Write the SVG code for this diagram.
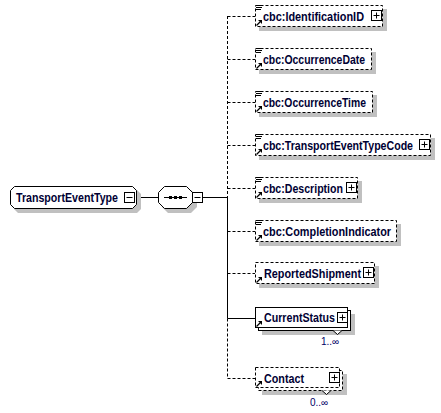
<svg xmlns="http://www.w3.org/2000/svg" xmlns:xlink="http://www.w3.org/1999/xlink" width="441" height="413" viewBox="0 0 441 413">
<style>
.bx{fill:#fff;stroke:#000;stroke-width:1}
.dsh{stroke-dasharray:3,2}
.sh{fill:#c0c0c0}
.cn{stroke:#000;stroke-width:1;fill:none}
.t{font-family:"Liberation Sans",Arial,sans-serif;font-weight:bold;font-size:12px;fill:#000033}
.m{font-family:"Liberation Sans",Arial,sans-serif;font-size:10px;fill:#000066}
</style>
<defs>
<g id="plus"><rect x="0.5" y="0.5" width="10" height="10" fill="#fff" stroke="#000"/><path d="M2.5 5.5H8.5M5.5 2.5V8.5" stroke="#000"/></g>
<g id="minus"><rect x="0.5" y="0.5" width="10" height="10" fill="#fff" stroke="#000"/><path d="M2.5 5.5H8.5" stroke="#000"/></g>
<g id="lines"><path d="M0 0.5H6M0 2.5H6M0 4.5H5" stroke="#000"/></g>
<g id="arrow"><path d="M0.5 6.5L4 3" stroke="#000" stroke-width="1.3"/><polygon points="2,1 6,1 6,5" fill="#000"/></g>
</defs>

<g id="connectors">
<path class="cn" d="M136 197.5H158"/>
<path class="cn" d="M203 197.5H227.5"/>
<path class="cn dsh" d="M227.5 16V197"/>
<path class="cn" d="M227.5 197V318.5"/>
<path class="cn dsh" d="M227.5 318.5V378.5"/>
<path class="cn dsh" d="M227.5 16.5H255"/>
<path class="cn dsh" d="M227.5 59.5H255"/>
<path class="cn dsh" d="M227.5 102.5H255"/>
<path class="cn dsh" d="M227.5 145.5H255"/>
<path class="cn dsh" d="M227.5 188.5H255"/>
<path class="cn dsh" d="M227.5 231.5H255"/>
<path class="cn dsh" d="M227.5 273.5H255"/>
<path class="cn" d="M227.5 318.5H255"/>
<path class="cn dsh" d="M227.5 378.5H255"/>
</g>

<g id="TransportEventType">
<polygon class="sh" points="18,190 137,190 141,194 141,209 137,213 18,213 14,209 14,194"/>
<polygon class="bx" points="14.5,186.5 132.5,186.5 136.5,190.5 136.5,204.5 132.5,208.5 14.5,208.5 10.5,204.5 10.5,190.5"/>
<text class="t" x="16" y="201.5" textLength="102" lengthAdjust="spacingAndGlyphs">TransportEventType</text>
<use xlink:href="#minus" x="124" y="192"/>
</g>

<g id="sequence">
<polygon class="sh" points="168,190 191,190 197,196 197,207 191,213 168,213 162,207 162,196"/>
<polygon class="bx" points="164.5,186.5 186.5,186.5 192.5,192.5 192.5,202.5 186.5,208.5 164.5,208.5 158.5,202.5 158.5,192.5"/>
<path d="M164 197.5H187" stroke="#000"/>
<rect x="169" y="196" width="3" height="3" fill="#000"/>
<rect x="174" y="196" width="3" height="3" fill="#000"/>
<rect x="179" y="196" width="3" height="3" fill="#000"/>
<use xlink:href="#minus" x="192" y="192"/>
</g>

<g id="IdentificationID">
<rect class="sh" x="259" y="9" width="128" height="22"/>
<rect class="bx dsh" x="255.5" y="5.5" width="127" height="21"/>
<use xlink:href="#lines" x="256" y="5"/>
<use xlink:href="#arrow" x="256" y="19"/>
<text class="t" x="263" y="20.5" textLength="101" lengthAdjust="spacingAndGlyphs">cbc:IdentificationID</text>
<use xlink:href="#plus" x="371" y="10"/>
</g>

<g id="OccurrenceDate">
<rect class="sh" x="259" y="52" width="117" height="22"/>
<rect class="bx dsh" x="255.5" y="48.5" width="116" height="21"/>
<use xlink:href="#lines" x="256" y="48"/>
<use xlink:href="#arrow" x="256" y="62"/>
<text class="t" x="263" y="63.5" textLength="102" lengthAdjust="spacingAndGlyphs">cbc:OccurrenceDate</text>
</g>

<g id="OccurrenceTime">
<rect class="sh" x="259" y="95" width="118" height="22"/>
<rect class="bx dsh" x="255.5" y="91.5" width="117" height="21"/>
<use xlink:href="#lines" x="256" y="91"/>
<use xlink:href="#arrow" x="256" y="105"/>
<text class="t" x="263" y="106.5" textLength="103" lengthAdjust="spacingAndGlyphs">cbc:OccurrenceTime</text>
</g>

<g id="TransportEventTypeCode">
<rect class="sh" x="259" y="138" width="176" height="22"/>
<rect class="bx dsh" x="255.5" y="134.5" width="175" height="21"/>
<use xlink:href="#lines" x="256" y="134"/>
<use xlink:href="#arrow" x="256" y="148"/>
<text class="t" x="263" y="149.5" textLength="150" lengthAdjust="spacingAndGlyphs">cbc:TransportEventTypeCode</text>
<use xlink:href="#plus" x="419" y="139"/>
</g>

<g id="Description">
<rect class="sh" x="259" y="181" width="103" height="22"/>
<rect class="bx dsh" x="255.5" y="177.5" width="102" height="21"/>
<use xlink:href="#lines" x="256" y="177"/>
<use xlink:href="#arrow" x="256" y="191"/>
<text class="t" x="263" y="192.5" textLength="80" lengthAdjust="spacingAndGlyphs">cbc:Description</text>
<use xlink:href="#plus" x="346" y="182"/>
</g>

<g id="CompletionIndicator">
<rect class="sh" x="259" y="224" width="142" height="22"/>
<rect class="bx dsh" x="255.5" y="220.5" width="141" height="21"/>
<use xlink:href="#lines" x="256" y="220"/>
<use xlink:href="#arrow" x="256" y="234"/>
<text class="t" x="263" y="235.5" textLength="128" lengthAdjust="spacingAndGlyphs">cbc:CompletionIndicator</text>
</g>

<g id="ReportedShipment">
<rect class="sh" x="259" y="266" width="120" height="22"/>
<rect class="bx dsh" x="255.5" y="262.5" width="119" height="21"/>
<use xlink:href="#arrow" x="256" y="276"/>
<text class="t" x="264" y="277.5" textLength="97" lengthAdjust="spacingAndGlyphs">ReportedShipment</text>
<use xlink:href="#plus" x="363" y="267"/>
</g>

<g id="CurrentStatus">
<rect class="sh" x="262" y="314" width="93" height="21"/>
<rect class="bx" x="258.5" y="310.5" width="92" height="20"/>
<rect class="bx" x="255.5" y="307.5" width="92" height="20"/>
<polyline points="333,330.5 337.5,334.5 342,330.5" fill="#fff" stroke="#000"/>
<use xlink:href="#arrow" x="256" y="320"/>
<text class="t" x="264" y="322" textLength="71" lengthAdjust="spacingAndGlyphs">CurrentStatus</text>
<use xlink:href="#plus" x="337" y="312"/>
<text class="m" x="321" y="345">1..∞</text>
</g>

<g id="Contact">
<rect class="sh" x="262" y="374" width="85" height="21"/>
<rect class="bx dsh" x="258.5" y="370.5" width="84" height="20"/>
<rect class="bx dsh" x="255.5" y="367.5" width="84" height="20"/>
<polyline points="322,390.5 326.5,394.5 331,390.5" fill="#fff" stroke="#000"/>
<use xlink:href="#arrow" x="256" y="380"/>
<text class="t" x="264" y="382.5" textLength="40" lengthAdjust="spacingAndGlyphs">Contact</text>
<use xlink:href="#plus" x="329" y="372"/>
<text class="m" x="310" y="406">0..∞</text>
</g>
</svg>
